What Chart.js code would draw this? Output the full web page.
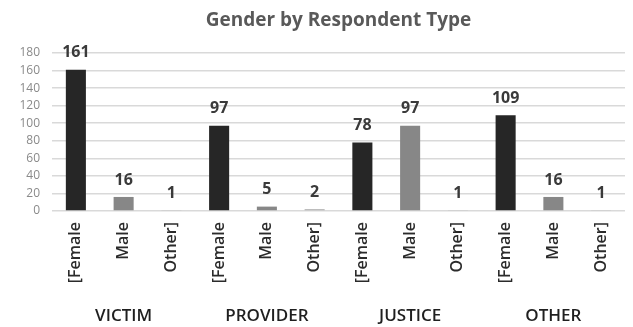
<!DOCTYPE html>
<html>
<head>
<meta charset="utf-8">
<script src="https://cdn.jsdelivr.net/npm/chart.js@4"></script>
<style>
  html, body { margin: 0; padding: 0; background: #fff; }
  #wrap { width: 633px; height: 327px; }
</style>
</head>
<body>
<div id="wrap"><canvas id="chart" width="633" height="327"></canvas></div>
<script>
// Chart values
const groups = ['VICTIM', 'PROVIDER', 'JUSTICE', 'OTHER'];
const genders = ['[Female', 'Male', 'Other]'];
const female = [161, 97, 78, 109];
const male = [16, 5, 97, 16];
const other = [1, 2, 1, 1];
const yTicks = [0, 20, 40, 60, 80, 100, 120, 140, 160, 180];
const chartTitle = 'Gender by Respondent Type';

const genderColors = ['#262626', '#878787', '#a8a8a8'];

// Flatten into one bar per gender per group
const labels = [];
const values = [];
const colors = [];
groups.forEach((g, i) => {
    [female[i], male[i], other[i]].forEach((v, j) => {
        labels.push(genders[j]);
        values.push(v);
        colors.push(genderColors[j]);
    });
});

// Value labels above each bar
const barValueLabels = {
    id: 'barValueLabels',
    afterDatasetsDraw(chart) {
        const ctx = chart.ctx;
        const meta = chart.getDatasetMeta(0);
        ctx.save();
        ctx.font = 'bold 16px "Open Sans", sans-serif';
        ctx.fillStyle = '#3a3a3a';
        ctx.textAlign = 'center';
        ctx.textBaseline = 'bottom';
        meta.data.forEach((bar, i) => {
            ctx.fillText(values[i], bar.x, bar.y - 9);
        });
        ctx.restore();
    }
};

// Title centred over the plot area (like the original), not the whole canvas
const areaTitle = {
    id: 'areaTitle',
    afterDraw(chart) {
        const ctx = chart.ctx;
        const area = chart.chartArea;
        ctx.save();
        ctx.font = 'bold 19px "Open Sans", sans-serif';
        ctx.fillStyle = '#595959';
        ctx.textAlign = 'center';
        ctx.textBaseline = 'middle';
        ctx.fillText(chartTitle, (area.left + area.right) / 2, 21);
        ctx.restore();
    }
};

new Chart(document.getElementById('chart').getContext('2d'), {
    type: 'bar',
    data: {
        labels: labels,
        datasets: [{
            data: values,
            backgroundColor: colors,
            barPercentage: 0.42,
            categoryPercentage: 1
        }]
    },
    options: {
        responsive: false,
        animation: false,
        layout: { padding: { left: 0, right: 8, top: 53, bottom: 0 } },
        plugins: {
            legend: { display: false },
            tooltip: { enabled: false },
            title: { display: false }
        },
        scales: {
            x: {
                position: 'bottom',
                grid: { display: false, drawTicks: false },
                border: { display: false },
                ticks: {
                    minRotation: 90,
                    maxRotation: 90,
                    padding: 11,
                    color: '#2b2b2b',
                    font: { family: '"Open Sans", sans-serif', size: 16, weight: '600' }
                },
                afterFit(scale) { scale.height = 85; }
            },
            x2: {
                type: 'category',
                labels: groups,
                position: 'bottom',
                offset: true,
                grid: { display: false, drawTicks: false },
                border: { display: false },
                ticks: {
                    padding: 10,
                    color: '#1f1f1f',
                    font: { family: '"Open Sans", sans-serif', size: 17, weight: '600' }
                },
                afterFit(scale) { scale.height = 31; }
            },
            y: {
                min: 0,
                max: 180,
                afterBuildTicks(scale) {
                    scale.ticks = yTicks.map(v => ({ value: v }));
                },
                grid: { color: '#d9d9d9', lineWidth: 1.5, drawTicks: false },
                border: { display: false },
                ticks: {
                    padding: 12,
                    color: '#8a8a8a',
                    font: { family: '"Open Sans", sans-serif', size: 12 }
                },
                afterFit(scale) { scale.width = 52; }
            }
        }
    },
    plugins: [barValueLabels, areaTitle]
});
</script>
</body>
</html>
